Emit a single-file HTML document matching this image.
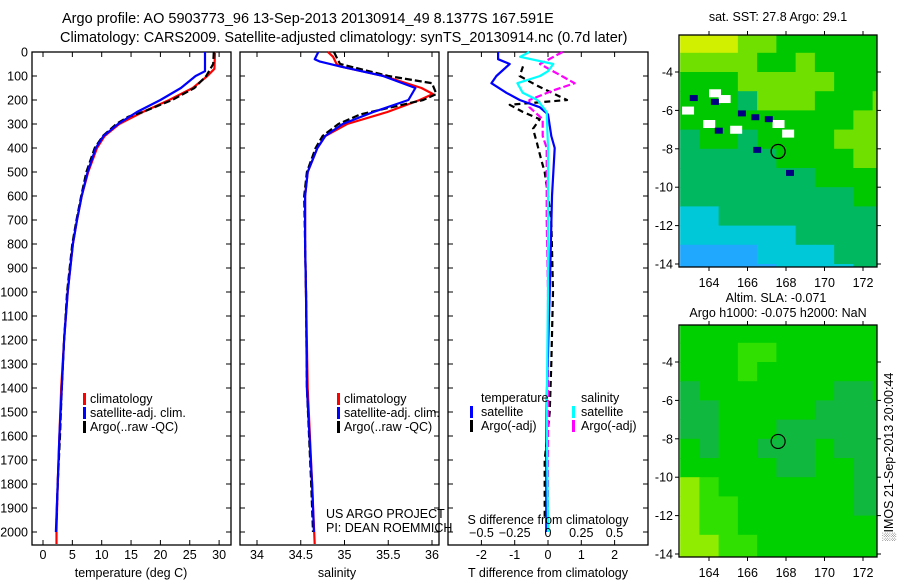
<!DOCTYPE html>
<html><head><meta charset="utf-8">
<style>
html,body{margin:0;padding:0;background:#fff;}
svg{display:block;font-family:"Liberation Sans",sans-serif;}
</style></head>
<body>
<svg id="fig" width="900" height="580" viewBox="0 0 900 580" xmlns="http://www.w3.org/2000/svg">
<text x="62" y="23" font-size="14.5">Argo profile: AO 5903773_96 13-Sep-2013 20130914_49 8.1377S 167.591E</text>
<text x="60" y="42" font-size="14.5">Climatology: CARS2009. Satellite-adjusted climatology: synTS_20130914.nc (0.7d later)</text>
<g id="g"></g>
</svg>
<script>
// ---------- data ----------
const depthTicks=[0,100,200,300,400,500,600,700,800,900,1000,1100,1200,1300,1400,1500,1600,1700,1800,1900,2000];
const tempTicks=[0,5,10,15,20,25,30];
const salTicks=[34,34.5,35,35.5,36];
const tdTicks=[-2,-1,0,1,2];
const sdTicks=[-0.5,-0.25,0,0.25,0.5];

const tClimDepth=[0,70,100,150,200,250,300,350,400,500,600,700,800,1000,1200,1400,1600,1800,2000,2050];
const tClim=[29.3,29.2,28,25.5,21.5,17,13,10.5,9.2,7.7,6.6,5.8,5.1,4.2,3.6,3.1,2.8,2.5,2.3,2.3];
const tSatDepth=[0,80,100,150,200,250,300,350,400,500,600,700,800,1000,1200,1400,1600,1800,2000];
const tSat=[27.6,27.6,26,23.5,20,16,12.8,10.3,9.0,7.6,6.6,5.8,5.1,4.2,3.6,3.2,2.8,2.5,2.2];
const tArgoDepth=[0,50,100,150,200,250,270,300,350,400,500,600,700,800,1000,1200,1400,1600,1800,1950];
const tArgo=[29.1,29.0,27.8,25.8,22,17,14.5,12.5,10.2,8.8,7.4,6.5,5.7,5.0,4.1,3.6,3.2,2.9,2.5,2.3];

const sClimDepth=[0,20,50,60,100,150,175,200,250,300,350,400,500,600,800,1000,1400,1800,2050];
const sClim=[34.81,34.87,34.91,34.95,35.45,35.88,36.01,35.86,35.49,35.03,34.78,34.69,34.58,34.55,34.55,34.56,34.58,34.63,34.66];
const sSatDepth=[0,30,40,60,100,150,200,250,300,350,400,500,600,800,1000,1400,1800,2000];
const sSat=[34.70,34.66,34.72,34.95,35.44,35.81,35.73,35.33,34.98,34.78,34.69,34.58,34.55,34.55,34.56,34.57,34.63,34.65];
const sArgoDepth=[0,30,50,100,130,175,200,250,260,300,350,400,500,600,800,1000,1400,1800,2000];
const sArgo=[34.88,34.92,34.95,35.5,36.0,36.05,35.9,35.3,35.18,34.93,34.75,34.67,34.57,34.54,34.55,34.56,34.57,34.62,34.64];

const dTsatDepth=[0,30,50,100,130,170,200,230,260,350,400,600,1000,1500,2000];
const dTsat=[-1.5,-1.5,-1.15,-1.55,-1.7,-1.25,-0.85,-0.25,0,0.1,0.2,0.12,0.05,-0.05,-0.05];
const dSsatDepth=[0,20,50,80,100,130,170,200,250,400,1000,1500,2000];
const dSsat=[-0.14,-0.21,0.04,0,-0.06,-0.23,-0.19,-0.08,-0.01,0,0,-0.01,0];
const dTargoDepth=[60,100,140,180,200,220,250,280,320,380,450,500,700,1000,1300,1500,1700,1950];
const dTargo=[-0.75,-0.85,-0.33,0.27,0.57,-1.15,-0.75,-0.25,-0.45,-0.33,-0.2,-0.1,0.1,0.15,0.1,0.05,-0.1,-0.1];
const dSargoDepth=[0,50,90,130,160,200,230,280,350,400,700,1000,1500,2000];
const dSargo=[0.11,-0.06,0.07,0.2,0.04,-0.14,-0.14,-0.04,-0.04,-0.01,-0.01,0,0,0];

const lonTicks=[164,166,168,170,172];
const latTicks=[-4,-6,-8,-10,-12,-14];
// SST map values (0 = cool blue ... 5 = warm yellow), rows north->south, 1-degree cells from 162.5E
const sstRows=[
[5,5,5,4,4,3,3,3,3,3,3],
[4,4,4,4,3,3,4,3,3,3,3],
[3,3,3,4,4,4,4,4,3,3,3],
[3,3,3,2,4,4,4,3,3,3,4],
[3,3,3,3,3,3,3,3,3,4,4],
[2,3,3,2,3,3,3,3,4,4,4],
[2,2,2,2,2,3,3,3,3,4,4],
[2,2,2,2,2,2,2,3,3,3,3],
[2,2,2,2,2,2,2,2,2,3,3],
[1,1,2,2,2,2,2,2,2,2,2],
[1,1,1,1,1,1,2,2,2,2,2],
[0,0,0,0,1,1,1,1,2,2,2],
[0,0,0,0,0,1,1,1,1,2,2]];
const slaRows=[
[1,1,1,1,1,1,1,1,1,1,1],
[1,1,1,2,2,1,1,1,1,1,1],
[1,1,1,2,1,1,1,1,1,1,1],
[0,1,1,1,1,1,1,1,0,0,1],
[0,0,1,1,1,1,1,0,0,0,0],
[0,0,1,1,1,0,0,0,0,0,0],
[1,0,1,1,0,0,0,1,0,0,0],
[1,1,1,1,1,0,0,1,1,0,0],
[3,2,1,1,1,1,1,1,1,0,0],
[3,2,2,1,1,1,1,1,1,0,0],
[3,2,2,1,1,1,1,1,1,1,1],
[3,3,2,2,1,1,1,1,1,1,1],
[3,3,2,2,1,1,1,1,1,1,1]];
const sstSpotLon=[164.0,164.5,162.6,163.7,165.1,167.3,167.8,164.1,163.0,165.5,166.2,166.9,164.3,166.3,168.0];
const sstSpotLat=[-4.9,-5.2,-5.8,-6.5,-6.8,-6.5,-7.0,-5.4,-5.2,-6.0,-6.2,-6.3,-6.9,-7.9,-9.1];
const sstSpotKind=[1,1,1,1,1,1,1,0,0,0,0,0,0,0,0];
const argoLon=167.591, argoLat=-8.1377;

// ---------- drawing ----------
const NS='http://www.w3.org/2000/svg';
const G=document.getElementById('g');
function mk(tag,attrs,parent){const e=document.createElementNS(NS,tag);for(const k in attrs)e.setAttribute(k,attrs[k]);(parent||G).appendChild(e);return e;}
const Y0=52, PXM=0.24;
function yD(d){return Y0+d*PXM;}
const BOT=545;

function frame(x0,x1,y0,y1,name){
  const r=mk('rect',{x:x0,y:y0,width:x1-x0,height:y1-y0,fill:'none',stroke:'#000','stroke-width':1.3});
  
  
}
function tickY(x0,x1,labels){
  depthTicks.forEach(d=>{const y=yD(d);
    mk('line',{x1:x0,y1:y,x2:x0+5,y2:y,stroke:'#000'});
    mk('line',{x1:x1,y1:y,x2:x1-5,y2:y,stroke:'#000'});
    if(labels){const t=mk('text',{x:x0-4,y:y+4.5,'font-size':12.5,'text-anchor':'end'});t.textContent=d;
      
      }
  });
}
function tickX(ticks,fx,y0,y1,ly,fmt,top){
  ticks.forEach(v=>{const x=fx(v);
    mk('line',{x1:x,y1:y1,x2:x,y2:y1-5,stroke:'#000'});
    if(top) mk('line',{x1:x,y1:y0,x2:x,y2:y0+5,stroke:'#000'});
    if(ly!==null){const t=mk('text',{x:x,y:ly,'font-size':12.5,'text-anchor':'middle'});t.textContent=fmt?fmt(v):v;
      
      }
  });
}
function series(vals,depths,fx,color,dash,name,w){
  const pts=vals.map((v,i)=>fx(v).toFixed(1)+','+yD(depths[i]).toFixed(1)).join(' ');
  const a={points:pts,fill:'none',stroke:color,'stroke-width':w||2.2,'stroke-linejoin':'round'};
  if(dash)a['stroke-dasharray']=dash;
  const p=mk('polyline',a);
  
  
}
function label(x,y,s,name,size,anchor){
  const t=mk('text',{x:x,y:y,'font-size':size||12.5,'text-anchor':anchor||'start'});t.textContent=s;
  
  
  return t;
}
function legendMark(x,y,color,name){
  const r=mk('rect',{x:x,y:y-10,width:3,height:12,fill:color});
  
  
}

// Panel 1 temperature
const fT=v=>43+v*5.87;
frame(32,231,Y0,BOT,'temperature-panel');
tickY(32,231,true);
tickX(tempTicks,fT,Y0,BOT,559,null,true);
series(tClim,tClimDepth,fT,'#ff0000',null,'temp-climatology-line');
series(tArgo,tArgoDepth,fT,'#000',"7,3",'temp-argo-line');
series(tSat,tSatDepth,fT,'#0000ff',null,'temp-satellite-line');
label(131,577,'temperature (deg C)','temperature-axis-title',12.5,'middle');
legendMark(83,403,'#ff0000','legend-climatology-mark');label(90,403,'climatology','legend-climatology');
legendMark(83,417,'#0000ff','legend-satellite-mark');label(90,417,'satellite-adj. clim.','legend-satellite');
legendMark(83,431,'#000','legend-argo-mark');label(90,431,'Argo(..raw -QC)','legend-argo');

// Panel 2 salinity
const fS=v=>257+(v-34)*87.5;
frame(240,439,Y0,BOT,'salinity-panel');
tickY(240,439,false);
tickX(salTicks,fS,Y0,BOT,559,null,true);
series(sClim,sClimDepth,fS,'#ff0000',null,'sal-climatology-line');
series(sArgo,sArgoDepth,fS,'#000',"7,3",'sal-argo-line');
series(sSat,sSatDepth,fS,'#0000ff',null,'sal-satellite-line');
label(337,577,'salinity','salinity-axis-title',12.5,'middle');
legendMark(337,403,'#ff0000','legend2-climatology-mark');label(344,403,'climatology','legend2-climatology');
legendMark(337,417,'#0000ff','legend2-satellite-mark');label(344,417,'satellite-adj. clim.','legend2-satellite');
legendMark(337,431,'#000','legend2-argo-mark');label(344,431,'Argo(..raw -QC)','legend2-argo');
label(326,518,'US ARGO PROJECT','project-label');
label(326,532,'PI: DEAN ROEMMICH','pi-label');

// Panel 3 differences
const fDT=v=>548+v*33.3;
const fDS=v=>548+v*133;
frame(448,648,Y0,BOT,'difference-panel');
tickY(448,648,false);
tickX(tdTicks,fDT,Y0,BOT,559,null,true);
series(dTargo,dTargoDepth,fDT,'#000',"6,4",'tdiff-argo-line');
series(dSargo,dSargoDepth,fDS,'#ff00ff',"7,3",'sdiff-argo-line');
series(dTsat,dTsatDepth,fDT,'#0000ff',null,'tdiff-satellite-line');
series(dSsat,dSsatDepth,fDS,'#00ffff',null,'sdiff-satellite-line');
sdTicks.forEach(v=>{label(fDS(v),537,String(v).replace('-','\u2212'),'s-tick-label',12.5,'middle');});
label(548,524,'S difference from climatology','s-axis-title',12.5,'middle');
label(548,577,'T difference from climatology','t-axis-title',12.5,'middle');
label(481,402,'temperature','legend3-temperature-heading');
label(581,402,'salinity','legend3-salinity-heading');
legendMark(470,416,'#0000ff','legend3-tsat-mark');label(481,416,'satellite','legend3-tsat');
legendMark(470,430,'#000','legend3-targo-mark');label(481,430,'Argo(-adj)','legend3-targo');
legendMark(572,416,'#00ffff','legend3-ssat-mark');label(581,416,'satellite','legend3-ssat');
legendMark(572,430,'#ff00ff','legend3-sargo-mark');label(581,430,'Argo(-adj)','legend3-sargo');

// Maps
const MX0=679,MX1=877;
const fLon=v=>709+(v-164)*19.25;
function mapPanel(y0,rows,palette,name){
  const y1=y0+232;
  const fLat=v=>y0+37+(-4-v)*19.2;
  const clip=mk('clipPath',{id:'clip'+name});
  mk('rect',{x:MX0,y:y0,width:MX1-MX0,height:y1-y0},clip);
  const grp=mk('g',{'clip-path':'url(#clip'+name+')'});
  
  
  rows.forEach((row,r)=>row.forEach((v,c)=>{
    const lon=162.5+c, lat=-2+(-r);
    const x=fLon(lon), y=fLat(lat);
    const cell=mk('rect',{x:x,y:y,width:fLon(lon+1)-x+0.5,height:fLat(lat-1)-y+0.5,fill:palette[v]},grp);
    
    
  }));
  frame(MX0,MX1,y0,y1,name+'-frame');
  lonTicks.forEach(v=>{const x=fLon(v);
    mk('line',{x1:x,y1:y0,x2:x,y2:y0-4,stroke:'#000'});
    mk('line',{x1:x,y1:y1,x2:x,y2:y1+4,stroke:'#000'});
    label(x,y1+20,String(v),'lon-tick-label',12.5,'middle');});
  latTicks.forEach(v=>{const y=fLat(v);
    mk('line',{x1:MX0,y1:y,x2:MX0-4,y2:y,stroke:'#000'});
    mk('line',{x1:MX1,y1:y,x2:MX1+4,y2:y,stroke:'#000'});
    label(MX0-6,y+4.5,String(v),'lat-tick-label',12.5,'end');});
  const c=mk('circle',{cx:fLon(argoLon),cy:fLat(argoLat),r:7,fill:'none',stroke:'#000','stroke-width':1.2});
  
  
  return fLat;
}
const sstPal=['#20a8ff','#00c8d8','#00b860','#00c800','#70e000','#d0f000'];
const slaPal=['#10b840','#00d000','#30e000','#90ec00'];
const fLat1=mapPanel(35,sstRows,sstPal,'sst-map');
sstSpotLon.forEach((lo,i)=>{
  const r=mk('rect',{x:fLon(lo),y:fLat1(sstSpotLat[i]),width:sstSpotKind[i]?12:8,height:sstSpotKind[i]?8:6,fill:sstSpotKind[i]?'#ffffff':'#000080'});
  
  
});
const c1=mk('circle',{cx:fLon(argoLon),cy:fLat1(argoLat),r:7,fill:'none',stroke:'#000','stroke-width':1.2});


label(778,21,'sat. SST: 27.8 Argo: 29.1','sst-map-title',12.5,'middle');
mapPanel(325,slaRows,slaPal,'sla-map');
label(776,302,'Altim. SLA: -0.071','sla-map-title-1',12.5,'middle');
label(778,317,'Argo h1000: -0.075 h2000: NaN','sla-map-title-2',12.5,'middle');
const ts=label(0,0,'\u2591IMOS 21-Sep-2013 20:00:44','timestamp-label',12.5,'middle');
ts.setAttribute('transform','translate(893,457) rotate(-90)');
</script>
</body></html>
